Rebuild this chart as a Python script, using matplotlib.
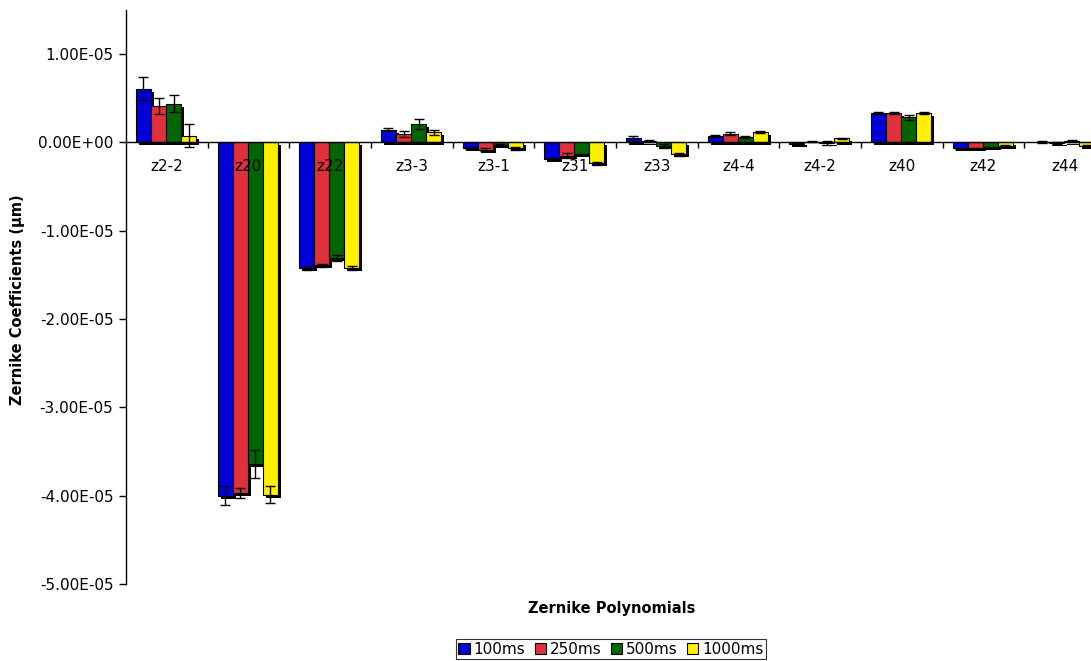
import matplotlib
matplotlib.use("Agg")
import matplotlib.pyplot as plt
import matplotlib.transforms as mtransforms
from matplotlib.ticker import FixedLocator, FuncFormatter
import numpy as np

plt.rcParams['font.family'] = ['DejaVu Sans']

# Zernike terms on the x axis
categories = ["z2-2", "z20", "z22", "z3-3", "z3-1", "z31", "z33",
              "z4-4", "z4-2", "z40", "z42", "z44"]
series_names = ["100ms", "250ms", "500ms", "1000ms"]
colors = ["#0000D8", "#E0303A", "#006600", "#FFF000"]

# Mean coefficients (um) per exposure time
vals_100 = [6.1e-6, -4.00e-5, -1.42e-5, 1.44e-6, -0.60e-6, -1.82e-6, 0.45e-6,
            0.74e-6, -0.15e-6, 3.30e-6, -0.68e-6, 0.05e-6]
vals_250 = [4.1e-6, -3.97e-5, -1.39e-5, 0.98e-6, -0.80e-6, -1.52e-6, 0.15e-6,
            1.00e-6, 0.10e-6, 3.30e-6, -0.68e-6, -0.10e-6]
vals_500 = [4.4e-6, -3.64e-5, -1.31e-5, 2.10e-6, -0.27e-6, -1.36e-6, -0.38e-6,
            0.65e-6, -0.05e-6, 2.85e-6, -0.57e-6, 0.15e-6]
vals_1000 = [0.76e-6, -3.99e-5, -1.42e-5, 1.17e-6, -0.68e-6, -2.38e-6, -1.32e-6,
             1.20e-6, 0.45e-6, 3.30e-6, -0.38e-6, -0.35e-6]

# Standard deviations
err_100 = [1.28e-6, 1.08e-6, 0.22e-6, 0.17e-6, 0.10e-6, 0.10e-6, 0.30e-6,
           0.10e-6, 0.10e-6, 0.10e-6, 0.10e-6, 0.10e-6]
err_250 = [0.90e-6, 0.57e-6, 0.15e-6, 0.37e-6, 0.15e-6, 0.28e-6, 0.15e-6,
           0.15e-6, 0.10e-6, 0.10e-6, 0.10e-6, 0.10e-6]
err_500 = [1.00e-6, 1.57e-6, 0.35e-6, 0.53e-6, 0.10e-6, 0.10e-6, 0.22e-6,
           0.10e-6, 0.25e-6, 0.25e-6, 0.10e-6, 0.10e-6]
err_1000 = [1.30e-6, 0.96e-6, 0.20e-6, 0.28e-6, 0.17e-6, 0.15e-6, 0.17e-6,
            0.15e-6, 0.10e-6, 0.10e-6, 0.10e-6, 0.10e-6]

values = [vals_100, vals_250, vals_500, vals_1000]
errors = [err_100, err_250, err_500, err_1000]

W, H = 1091, 661
fig = plt.figure(figsize=(W / 100, H / 100), dpi=100)
ax = fig.add_axes([126 / W, 77 / H, 980 / W, 574 / H])

x = np.arange(len(categories))
bw = 0.184
shadow = mtransforms.offset_copy(ax.transData, fig=fig, x=3, y=-3, units='dots')

for k, (vals, errs, col, name) in enumerate(zip(values, errors, colors, series_names)):
    pos = x + (k - 1.5) * bw - 0.01
    ax.bar(pos, vals, width=bw, color='black', edgecolor='none',
           transform=shadow, zorder=1 + k * 0.1)
    ax.bar(pos, vals, width=bw, color=col, edgecolor='black', linewidth=0.8,
           label=name, zorder=1.05 + k * 0.1)
    ax.errorbar(pos, vals, yerr=errs, fmt='none', ecolor='black',
                elinewidth=1.0, capsize=3.6, capthick=1.0, zorder=3)

ax.set_xlim(-0.5, len(categories) - 0.5)
ax.set_ylim(-5e-5, 1.5e-5)

# axes frame: left spine plus category axis through zero
for s in ('top', 'right'):
    ax.spines[s].set_visible(False)
ax.spines['bottom'].set_position(('data', 0))
ax.spines['bottom'].set_linewidth(1.0)
ax.spines['left'].set_linewidth(1.0)
ax.spines['bottom'].set_zorder(2.6)

ax.xaxis.set_major_locator(FixedLocator(x))
ax.set_xticklabels(categories, fontsize=11)
ax.xaxis.set_minor_locator(FixedLocator(x[:-1] + 0.5))
ax.tick_params(axis='x', which='major', length=0, pad=12)
ax.tick_params(axis='x', which='minor', length=4, width=1, direction='out')

ax.set_yticks(np.arange(-5e-5, 1.01e-5, 1e-5))
ax.yaxis.set_major_formatter(FuncFormatter(lambda v, p: f"{v:.2E}" if abs(v) > 1e-12 else "0.00E+00"))
ax.tick_params(axis='y', length=5, width=1, labelsize=11, pad=4)

fig.text(18 / W, 1 - 300 / H, "Zernike Coefficients (µm)", rotation=90,
         ha='center', va='center', fontsize=10.5, fontweight='bold')
fig.text(612 / W, 1 - 609 / H, "Zernike Polynomials", ha='center', va='center',
         fontsize=10.5, fontweight='bold')

handles, labels = ax.get_legend_handles_labels()
leg = fig.legend(handles, labels, loc='center', bbox_to_anchor=(611 / W, 1 - 649 / H),
                 ncol=4, fontsize=11, frameon=True, fancybox=False,
                 handlelength=0.75, handleheight=0.75, handletextpad=0.25,
                 columnspacing=0.6, borderpad=0.15, borderaxespad=0)
leg.get_frame().set_edgecolor('black')
leg.get_frame().set_linewidth(0.8)

fig.savefig("out.png", dpi=100)
